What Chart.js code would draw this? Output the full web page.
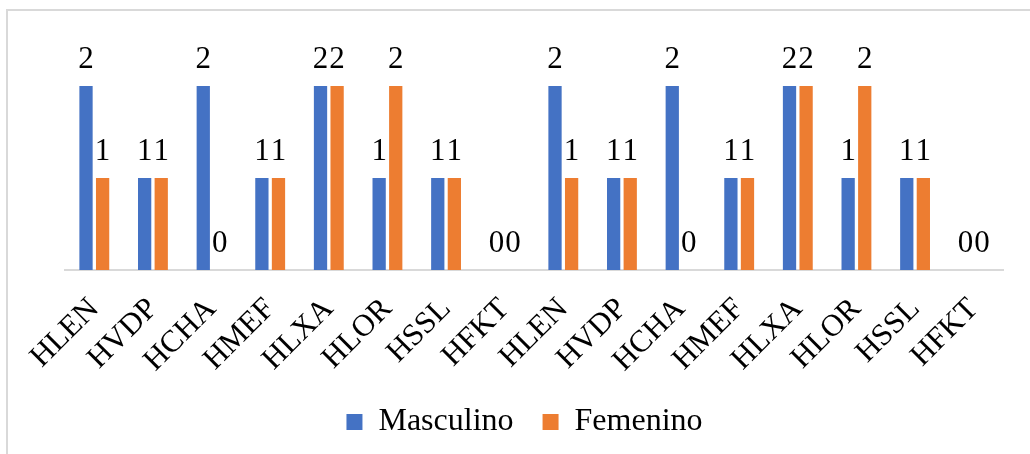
<!DOCTYPE html>
<html>
<head>
<meta charset="utf-8">
<script src="https://cdn.jsdelivr.net/npm/chart.js@4/dist/chart.umd.min.js"></script>
<style>
  html, body { margin: 0; padding: 0; background: #ffffff; }
  #wrap { position: relative; width: 1030px; height: 454px; }
  canvas { display: block; }
</style>
</head>
<body>
<div id="wrap"><canvas id="chart" width="1030" height="454"></canvas></div>
<script>
// Categories and values per group
const categories = ['HLEN','HVDP','HCHA','HMEF','HLXA','HLOR','HSSL','HFKT',
                    'HLEN','HVDP','HCHA','HMEF','HLXA','HLOR','HSSL','HFKT'];
const masculino = [2,1,2,1,2,1,1,0, 2,1,2,1,2,1,1,0];
const femenino  = [1,1,0,1,2,2,1,0, 1,1,0,1,2,2,1,0];

const FONT = 'Liberation Serif, "Times New Roman", serif';

// Light grey frame around the chart
const framePlugin = {
  id: 'frame',
  beforeDraw(chart) {
    const ctx = chart.ctx;
    ctx.save();
    ctx.strokeStyle = '#d9d9d9';
    ctx.lineWidth = 2;
    ctx.beginPath();
    ctx.moveTo(7, chart.height);
    ctx.lineTo(7, 10);
    ctx.lineTo(chart.width, 10);
    ctx.stroke();
    ctx.restore();
  }
};

// Value labels above each bar
const valueLabels = {
  id: 'valueLabels',
  afterDatasetsDraw(chart) {
    const ctx = chart.ctx;
    ctx.save();
    ctx.font = '31px ' + FONT;
    ctx.fillStyle = '#000000';
    ctx.textAlign = 'center';
    ctx.textBaseline = 'alphabetic';
    chart.data.datasets.forEach((ds, i) => {
      const meta = chart.getDatasetMeta(i);
      meta.data.forEach((bar, j) => {
        ctx.fillText(String(ds.data[j]), bar.x, bar.y - 18);
      });
    });
    ctx.restore();
  }
};

new Chart(document.getElementById('chart'), {
  type: 'bar',
  data: {
    labels: categories,
    datasets: [
      { label: 'Masculino', data: masculino, backgroundColor: '#4472C4',
        categoryPercentage: 0.566, barPercentage: 0.8 },
      { label: 'Femenino', data: femenino, backgroundColor: '#ED7D31',
        categoryPercentage: 0.566, barPercentage: 0.8 }
    ]
  },
  options: {
    responsive: false,
    animation: false,
    layout: { padding: { left: 46, right: 27, top: 40, bottom: 6 } },
    scales: {
      y: {
        display: false,
        min: 0,
        max: 2.5
      },
      // empty left gutter so the legend sits centred on the whole frame
      gutter: {
        type: 'linear',
        position: 'left',
        display: true,
        grid: { display: false, drawTicks: false },
        border: { display: false },
        ticks: { display: false },
        afterFit(scale) { scale.width = 19; }
      },
      x: {
        grid: { display: false, drawTicks: false },
        border: { display: true, color: '#d9d9d9', width: 2 },
        ticks: {
          color: '#000000',
          font: { family: FONT, size: 31 },
          minRotation: 45,
          maxRotation: 45,
          autoSkip: false,
          padding: 21
        },
        afterFit(scale) { scale.height = 107; }
      }
    },
    plugins: {
      legend: {
        position: 'bottom',
        labels: {
          color: '#000000',
          font: { family: FONT, size: 32 },
          boxWidth: 16,
          boxHeight: 16,
          padding: 29
        }
      },
      tooltip: { enabled: false }
    }
  },
  plugins: [framePlugin, valueLabels]
});
</script>
</body>
</html>
